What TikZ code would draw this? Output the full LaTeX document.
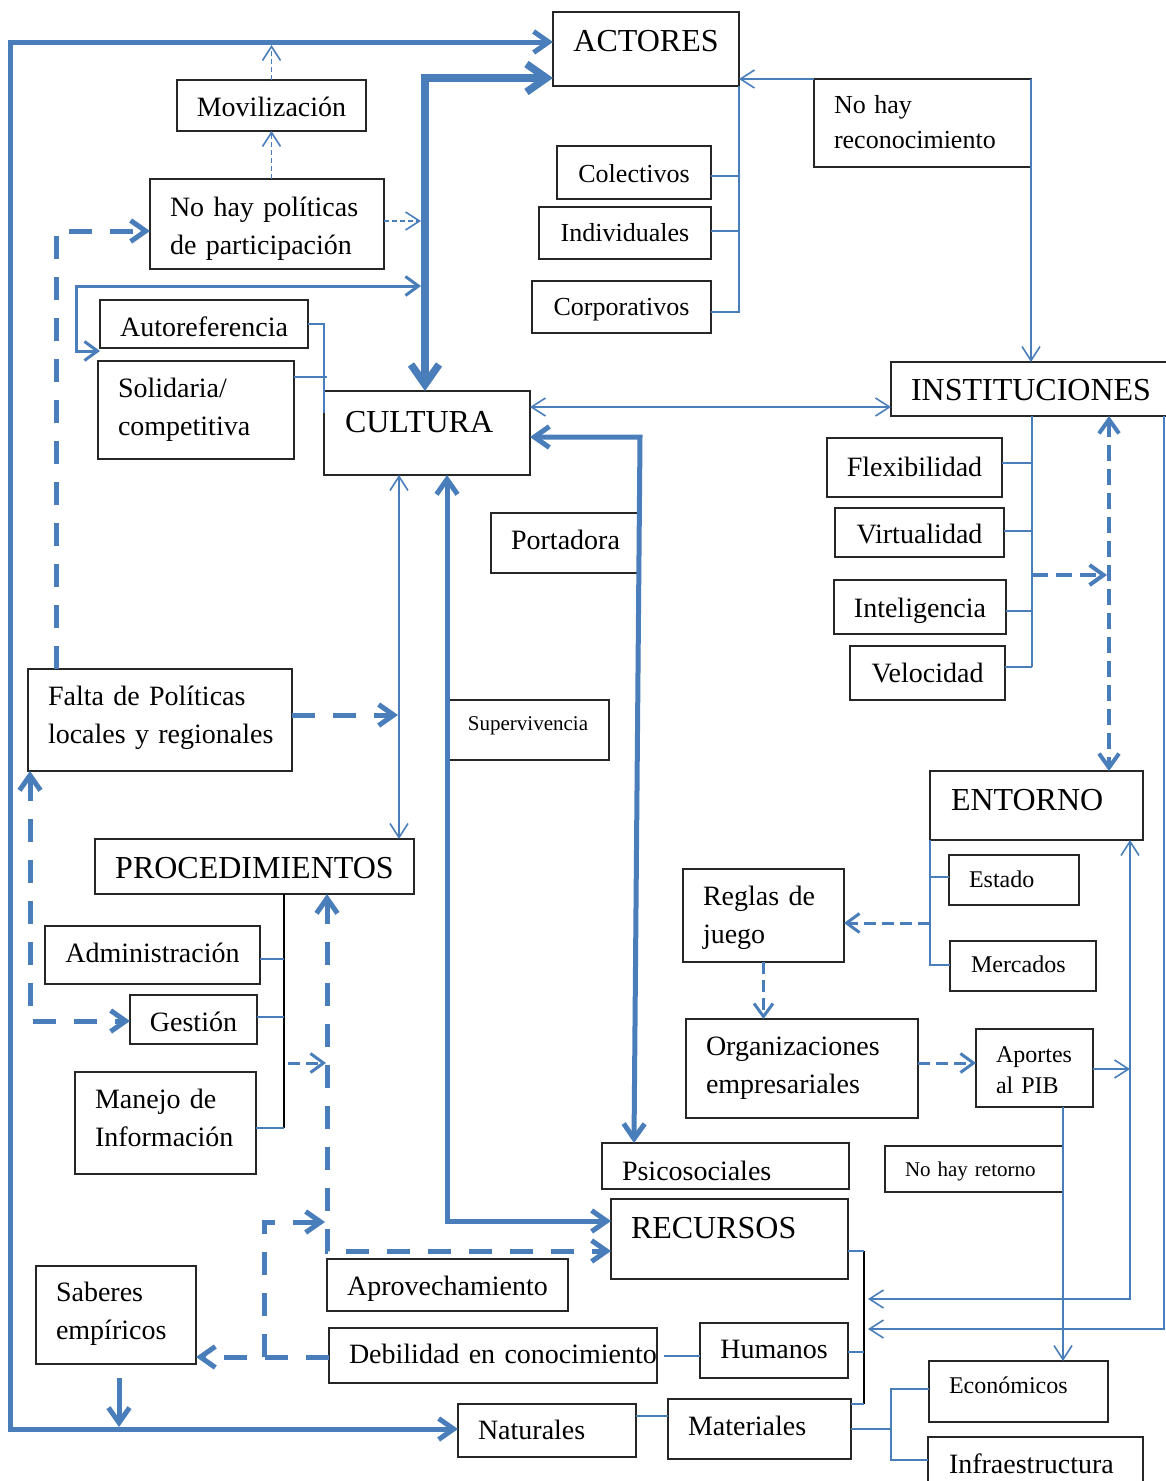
\documentclass[tikz,border=0pt]{standalone}
\usepackage{fontspec}
\setmainfont{Liberation Serif}
\usetikzlibrary{arrows.meta}
\definecolor{azul}{RGB}{74,126,187}
\newcommand{\ftitulo}{\fontsize{32}{38}\selectfont}
\newcommand{\fnormal}{\fontsize{28}{38}\selectfont}
\newcommand{\fmedio}{\fontsize{26}{35}\selectfont}
\newcommand{\fpeque}{\fontsize{24}{31}\selectfont}
\newcommand{\fmini}{\fontsize{21}{26}\selectfont}
\tikzset{
  caja/.style={draw=black!85, line width=1.3pt, anchor=north west, inner ysep=0pt, outer sep=0pt, align=left, font=\fnormal},
  lfina/.style={draw=azul, line width=1.6pt, >={Straight Barb[length=14pt,width=18pt]}},
  lmedia/.style={draw=azul, line width=3pt, >={Straight Barb[length=13pt,width=19pt]}},
  lcuatro/.style={draw=azul, line width=4pt, >={Straight Barb[length=14pt,width=20pt]}},
  lgruesa/.style={draw=azul, line width=5pt, >={Straight Barb[length=15pt,width=21pt]}},
  lmaxi/.style={draw=azul, line width=7.5pt, >={Straight Barb[length=20pt,width=28pt]}},
  lnegra/.style={draw=black, line width=2pt},
  pfina/.style={dash pattern=on 5pt off 3pt},
  pmedia/.style={dash pattern=on 12pt off 6pt},
  pcuatro/.style={dash pattern=on 16pt off 8pt},
  pgruesa/.style={dash pattern=on 23pt off 18pt}
}
\begin{document}
\begin{tikzpicture}[x=1pt,y=-1pt]
\useasboundingbox (0,0) rectangle (1165,1481);
%	Boîtes du haut :
\node[caja, font=\ftitulo, align=center, text width=166pt, inner xsep=10pt, text height=39pt, text depth=35pt] (act) at (553,12) {ACTORES};
\node[caja, align=center, text width=169pt, inner xsep=10pt, text height=36pt, text depth=15pt] (mov) at (177,80) {Movilización};
\node[caja, text width=194pt, inner xsep=20pt, text height=37pt, text depth=53pt] (nhp) at (150,179) {\mbox{No hay políticas}\\\mbox{de participación}};
\node[caja, align=center, text width=200pt, inner xsep=4pt, text height=36pt, text depth=12pt] (auto) at (100,300) {Autoreferencia};
\node[caja, text width=156pt, inner xsep=20pt, text height=36pt, text depth=62pt] (sol) at (98,361) {Solidaria/\\competitiva};
\node[caja, font=\ftitulo, text width=164pt, inner xsep=21pt, text height=41pt, text depth=43pt] (cul) at (324,391) {CULTURA};
\node[caja, font=\fmedio, align=center, text width=144pt, inner xsep=5pt, text height=36pt, text depth=17pt] (col) at (557,146) {Colectivos};
\node[caja, font=\fmedio, align=center, text width=162pt, inner xsep=5pt, text height=34pt, text depth=18pt] (ind) at (539,207) {Individuales};
\node[caja, font=\fmedio, align=center, text width=169pt, inner xsep=5pt, text height=34pt, text depth=18pt] (cor) at (532,281) {Corporativos};
\node[caja, font=\fmedio, text width=177pt, inner xsep=20pt, text height=34pt, text depth=54pt] (nhr) at (814,79) {\mbox{No hay}\\reconocimiento};
\node[caja, font=\ftitulo, text width=239pt, inner xsep=20pt, text height=38pt, text depth=16pt] (ins) at (891,362) {INSTITUCIONES};
\node[caja, align=center, text width=165pt, inner xsep=5pt, text height=38pt, text depth=21pt] (flex) at (827,438) {Flexibilidad};
\node[caja, align=center, text width=159pt, inner xsep=5pt, text height=35pt, text depth=14pt] (vir) at (835,508) {Virtualidad};
\node[caja, align=center, text width=162pt, inner xsep=5pt, text height=37pt, text depth=17pt] (int) at (834,580) {Inteligencia};
\node[caja, align=center, text width=145pt, inner xsep=5pt, text height=36pt, text depth=18pt] (vel) at (850,646) {Velocidad};
\node[caja, align=center, text width=139pt, inner xsep=5pt, text height=36pt, text depth=24pt] (por) at (491,513) {Portadora};
\node[caja, font=\fmini, align=center, text width=152pt, inner xsep=5pt, text height=30pt, text depth=30pt] (sup) at (447,700) {Supervivencia};
%	Boîtes de gauche :
\node[caja, text width=224pt, inner xsep=20pt, text height=36pt, text depth=66pt] (fal) at (28,669) {\mbox{Falta de Políticas}\\\mbox{locales y regionales}};
\node[caja, font=\ftitulo, align=center, text width=309pt, inner xsep=5pt, text height=39pt, text depth=16pt] (pro) at (95,839) {PROCEDIMIENTOS};
\node[caja, align=center, text width=205pt, inner xsep=5pt, text height=36pt, text depth=22pt] (adm) at (45,926) {Administración};
\node[caja, align=center, text width=117pt, inner xsep=5pt, text height=36pt, text depth=13pt] (ges) at (130,995) {Gestión};
\node[caja, text width=141pt, inner xsep=20pt, text height=36pt, text depth=66pt] (man) at (75,1072) {\mbox{Manejo de}\\Información};
%	Boîtes de droite :
\node[caja, font=\ftitulo, text width=171pt, inner xsep=21pt, text height=39pt, text depth=30pt] (ent) at (930,771) {ENTORNO};
\node[caja, font=\fpeque, text width=90pt, inner xsep=20pt, text height=32pt, text depth=18pt] (est) at (949,855) {Estado};
\node[caja, font=\fpeque, text width=104pt, inner xsep=21pt, text height=31pt, text depth=19pt] (mer) at (950,941) {Mercados};
\node[caja, text width=121pt, inner xsep=20pt, text height=36pt, text depth=57pt] (reg) at (683,869) {\mbox{Reglas de}\\juego};
\node[caja, text width=192pt, inner xsep=20pt, text height=36pt, text depth=63pt] (org) at (686,1019) {Organizaciones\\empresariales};
\node[caja, font=\fpeque, text width=77pt, inner xsep=20pt, text height=33pt, text depth=45pt] (apo) at (976,1029) {Aportes\\\mbox{al PIB}};
\node[caja, text width=207pt, inner xsep=20pt, text height=37pt, text depth=9pt] (psi) at (602,1143) {Psicosociales};
\node[caja, font=\fmini, text width=138pt, inner xsep=20pt, text height=30pt, text depth=16pt] (nhret) at (885,1146) {\mbox{No hay retorno}};
%	Boîtes du bas :
\node[caja, font=\ftitulo, text width=197pt, inner xsep=20pt, text height=39pt, text depth=41pt] (rec) at (611,1199) {RECURSOS};
\node[caja, align=center, text width=231pt, inner xsep=5pt, text height=36pt, text depth=16pt] (apr) at (327,1259) {Aprovechamiento};
\node[caja, text width=288pt, inner xsep=20pt, text height=35pt, text depth=20pt] (deb) at (329,1328) {\mbox{Debilidad en conocimiento}};
\node[caja, align=center, text width=138pt, inner xsep=5pt, text height=35pt, text depth=20pt] (hum) at (700,1323) {Humanos};
\node[caja, text width=120pt, inner xsep=20pt, text height=35pt, text depth=63pt] (sab) at (36,1266) {Saberes\\empíricos};
\node[caja, text width=138pt, inner xsep=20pt, text height=35pt, text depth=18pt] (nat) at (458,1404) {Naturales};
\node[caja, text width=143pt, inner xsep=20pt, text height=36pt, text depth=24pt] (mat) at (668,1399) {Materiales};
\node[caja, font=\fpeque, text width=139pt, inner xsep=20pt, text height=32pt, text depth=29pt] (eco) at (929,1361) {Económicos};
\node[caja, text width=173pt, inner xsep=21pt, text height=36pt, text depth=30pt] (inf) at (928,1437) {Infraestructura};
%	Grandes flèches :
\draw[lgruesa, <->] (act.west |- 0,42) -- (10,42) -- (10,1429) -- (nat.west |- 0,1429);
\draw[lmaxi, <->] (cul.north -| 425,0) -- (425,78) -- (act.west |- 0,78);
\draw[lgruesa, <->] (cul.east |- 0,437) -- (640,437) -- (psi.north -| 634,0);
\draw[lgruesa, <->] (cul.south -| 447,0) -- (447,1221) -- (rec.west |- 0,1221);
\draw[lgruesa, ->, shorten <=14pt] (sab.south -| 119,0) -- (119,1427);
\draw[lmedia, <->] (auto.west |- 0,351) -- (76,351) -- (76,286) -- (421,286);
%	Flèches fines :
\draw[lfina, pfina, ->] (mov.north) -- (mov.north |- 0,45);
\draw[lfina, pfina, ->] (mov.south |- nhp.north) -- (mov.south);
\draw[lfina, pfina, ->] (nhp.east |- 0,221) -- (421,221);
\draw[lfina, ->] (nhr.north west) -- (act.east |- nhr.north west);
\draw[lfina, ->] (nhr.north east) -- (ins.north -| nhr.north east);
\draw[lfina, <->] (cul.east |- 0,407) -- (ins.west |- 0,407);
\draw[lfina, <->] (cul.south -| 399,0) -- (pro.north -| 399,0);
\draw[lfina, <->] (ent.south -| 1130,0) -- (1130,1299) -- (868,1299);
\draw[lfina, ->] (apo.east |- 0,1069) -- (1130,1069);
\draw[lfina, ->] (ins.south -| 1164,0) -- (1164,1329) -- (868,1329);
\draw[lfina, ->] (apo.south -| 1063,0) -- (eco.north -| 1063,0);
%	Flèches en tirets :
\draw[lgruesa, pgruesa, ->] (fal.north -| 56,0) -- (56,231) -- (nhp.west |- 0,231);
\draw[lgruesa, pgruesa, ->] (fal.east |- 0,715) -- (398,715);
\draw[lgruesa, pgruesa, <->] (fal.south -| 30,0) -- (30,1021) -- (ges.west |- 0,1021);
\draw[lgruesa, pgruesa, <->] (pro.south -| 327,0) -- (327,1251) -- (rec.west |- 0,1251);
\draw[lgruesa, pgruesa, ->] (deb.west |- 0,1357) -- (sab.east |- 0,1357);
\draw[lgruesa, pgruesa, ->] (264,1357) -- (264,1222) -- (325,1222);
\draw[lcuatro, pcuatro, ->] (1032,575) -- (1107,575);
\draw[lcuatro, pcuatro, <->] (ins.south -| 1109,0) -- (ent.north -| 1109,0);
\draw[lmedia, pmedia, ->] (930,923) -- (reg.east |- 0,923);
\draw[lmedia, pmedia, ->] (reg.south) -- (org.north -| reg.south);
\draw[lmedia, pmedia, ->] (org.east |- 0,1063) -- (apo.west |- 0,1063);
\draw[lmedia, pmedia, ->] (288,1063) -- (326,1063);
%	Accolades :
\draw[lfina] (act.south east) -- (739,313);
\draw[lfina] (col.east |- 0,176) -- (739,176);
\draw[lfina] (ind.east |- 0,231) -- (739,231);
\draw[lfina] (cor.east |- 0,312) -- (739,312);
\draw[lfina] (auto.east) -- (324,324) -- (324,413);
\draw[lfina] (sol.east |- 0,377) -- (327,377);
\draw[lfina] (ins.south -| 1032,0) -- (1032,667);
\draw[lfina] (flex.east |- 0,463) -- (1032,463);
\draw[lfina] (vir.east |- 0,531) -- (1032,531);
\draw[lfina] (int.east |- 0,611) -- (1032,611);
\draw[lfina] (vel.east |- 0,667) -- (1032,667);
\draw[lfina] (ent.south -| 930,0) -- (930,965) -- (mer.west |- 0,965);
\draw[lfina] (930,877) -- (est.west |- 0,877);
\draw[lnegra] (pro.south -| 284,0) -- (284,1128);
\draw[lfina] (adm.east |- 0,959) -- (284,959);
\draw[lfina] (ges.east |- 0,1017) -- (284,1017);
\draw[lfina] (man.east |- 0,1128) -- (284,1128);
\draw[lnegra] (864,1251) -- (864,1404);
\draw[lfina] (rec.east |- 0,1251) -- (864,1251);
\draw[lfina] (hum.east |- 0,1352) -- (864,1352);
\draw[lfina] (mat.east |- 0,1404) -- (864,1404);
\draw[lfina, shorten <=7pt] (deb.east |- 0,1356) -- (hum.west |- 0,1356);
\draw[lfina] (nat.east |- 0,1416) -- (mat.west |- 0,1416);
\draw[lfina] (mat.east |- 0,1429) -- (891,1429);
\draw[lfina] (eco.west |- 0,1389) -- (891,1389) -- (891,1460) -- (inf.west |- 0,1460);
\end{tikzpicture}
\end{document}
